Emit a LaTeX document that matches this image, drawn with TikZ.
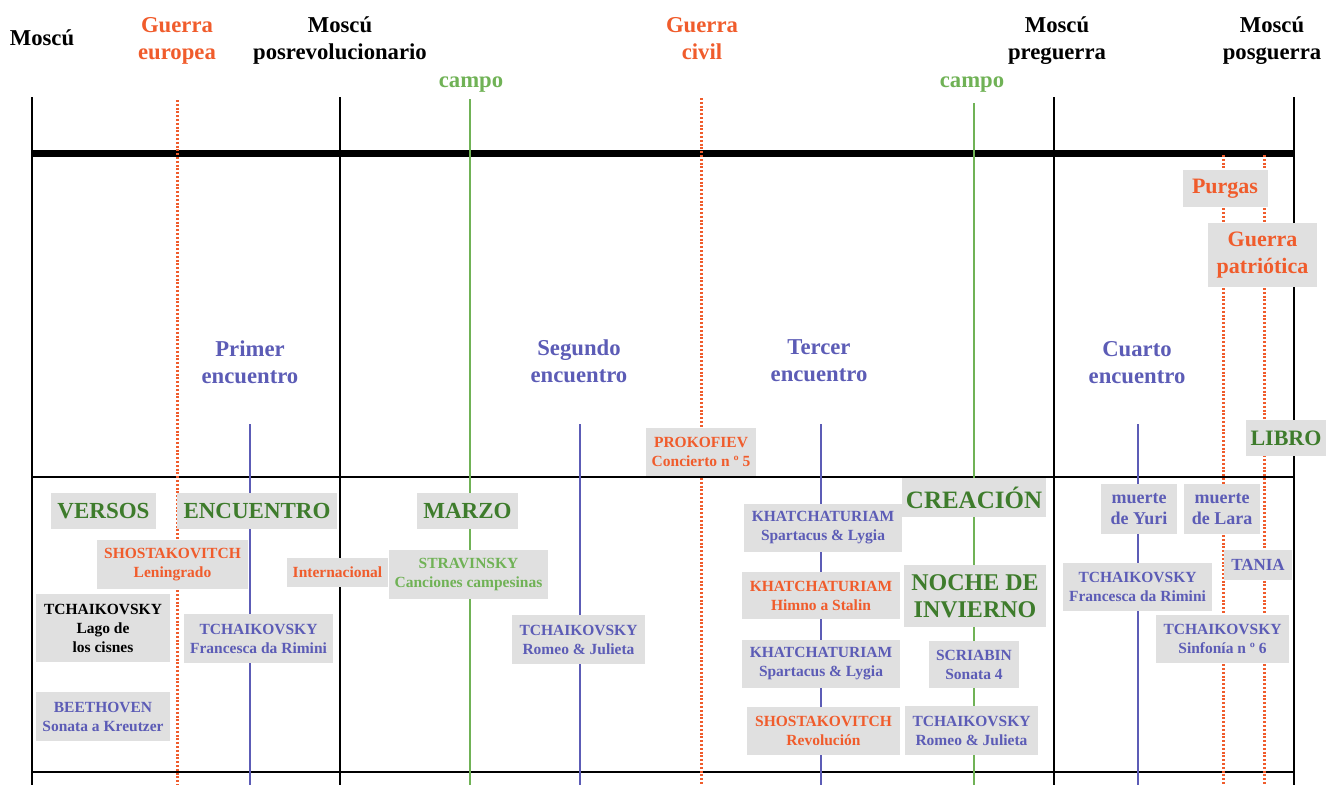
\documentclass[tikz,border=0pt]{standalone}
\usepackage{fontspec}
\setmainfont{Liberation Serif}
\definecolor{orng}{RGB}{240,92,44}
\definecolor{blu}{RGB}{92,92,182}
\definecolor{lgrn}{RGB}{112,178,86}
\definecolor{dgrn}{RGB}{62,124,44}
\definecolor{boxgray}{RGB}{224,224,224}
\tikzset{
  hdr/.style={align=center,inner sep=0pt,font=\fontsize{22.7}{27}\selectfont\bfseries},
  gbox/.style={fill=boxgray,align=center,inner sep=0pt,font=\fontsize{15.5}{19}\selectfont\bfseries},
  bigbox/.style={gbox,font=\fontsize{23}{27}\selectfont\bfseries},
  midbox/.style={gbox,font=\fontsize{22}{27}\selectfont\bfseries},
  warline/.style={orng,line width=3pt,dash pattern=on 2pt off 1.8pt},
  campline/.style={lgrn,line width=2.8pt},
  encline/.style={blu,line width=2.3pt},
  frameline/.style={black,line width=2.8pt}
}
\begin{document}
\begin{tikzpicture}[x=1pt,y=-1pt]
  \useasboundingbox (0,0) rectangle (1328,785);
  % ---------------- frame ----------------
  \foreach \px in {32,340,1054,1294}
    \draw[frameline] (\px,97) -- (\px,785);
  \draw[black,line width=6.5pt] (32,153.5) -- (1294,153.5);
  \draw[frameline] (32,477) -- (1294,477);
  \draw[frameline] (32,772) -- (1294,772);
  % ---------------- wars, camps, encounters ----------------
  \foreach \px/\py in {177/100, 701/98, 1223/155, 1264/155}
    \draw[warline] (\px,\py) -- (\px,785);
  \foreach \px/\py in {470/99, 974/103}
    \draw[campline] (\px,\py) -- (\px,785);
  \foreach \px in {250,580,821,1138}
    \draw[encline] (\px,424) -- (\px,785);
  % ---------------- headings ----------------
  \node[hdr] (moscu) at (42,38) {Moscú};
  \node[hdr,text=orng] (geuropea) at (177,41) {Guerra\\europea};
  \node[hdr] (mposrev) at (340,41) {Moscú\\posrevolucionario};
  \node[hdr,text=lgrn] (campoA) at (471,85) {campo};
  \node[hdr,text=orng] (gcivil) at (702,39) {Guerra\\civil};
  \node[hdr,text=lgrn] (campoB) at (972,85) {campo};
  \node[hdr] (mpreg) at (1057,41) {Moscú\\preguerra};
  \node[hdr] (mposg) at (1272,41) {Moscú\\posguerra};
  \node[hdr,text=blu] (enc1) at (250,362) {Primer\\encuentro};
  \node[hdr,text=blu] (enc2) at (579,361) {Segundo\\encuentro};
  \node[hdr,text=blu] (enc3) at (819,361) {Tercer\\encuentro};
  \node[hdr,text=blu] (enc4) at (1137,363) {Cuarto\\encuentro};
  % ---------------- upper right ----------------
  \node[midbox,text=orng,minimum width=85,minimum height=37] (purgas) at (1225,188.5) {Purgas};
  \node[midbox,text=orng,minimum width=109,minimum height=64] (gpatria) at (1262.5,255) {Guerra\\patriótica};
  \node[midbox,text=dgrn,minimum width=80,minimum height=36] (libro) at (1286,438) {LIBRO};
  \node[gbox,text=orng,minimum width=110,minimum height=48] (prokof) at (701,452) {PROKOFIEV\\Concierto n º 5};
  % ---------------- first period ----------------
  \node[bigbox,text=dgrn,minimum width=105,minimum height=36] (versos) at (103.5,511) {VERSOS};
  \node[bigbox,text=dgrn,minimum width=160,minimum height=36] (encuentro) at (257,511) {ENCUENTRO};
  \node[gbox,text=orng,minimum width=151,minimum height=49] (shostA) at (172.5,564.5) {SHOSTAKOVITCH\\Leningrado};
  \node[gbox,text=orng,minimum width=101,minimum height=29] (internac) at (337.5,572.5) {Internacional};
  \node[gbox,text=black,minimum width=134,minimum height=68] (tchLago) at (103,628) {TCHAIKOVSKY\\Lago de\\los cisnes};
  \node[gbox,text=blu,minimum width=149,minimum height=49] (tchFranA) at (258.5,638.5) {TCHAIKOVSKY\\Francesca da Rimini};
  \node[gbox,text=blu,minimum width=134,minimum height=49] (beeth) at (103,716.5) {BEETHOVEN\\Sonata a Kreutzer};
  % ---------------- second period ----------------
  \node[bigbox,text=dgrn,minimum width=101,minimum height=36] (marzo) at (467.5,511) {MARZO};
  \node[gbox,text=lgrn,minimum width=159,minimum height=49] (strav) at (468.5,574.5) {STRAVINSKY\\Canciones campesinas};
  \node[gbox,text=blu,minimum width=133,minimum height=49] (tchRomA) at (578.5,639.5) {TCHAIKOVSKY\\Romeo \& Julieta};
  % ---------------- third period ----------------
  \node[gbox,text=blu,minimum width=158,minimum height=48] (khatA) at (823,528) {KHATCHATURIAM\\Spartacus \& Lygia};
  \node[gbox,text=orng,minimum width=158,minimum height=47] (khatB) at (821,595.5) {KHATCHATURIAM\\Himno a Stalin};
  \node[gbox,text=blu,minimum width=158,minimum height=48] (khatC) at (821,664) {KHATCHATURIAM\\Spartacus \& Lygia};
  \node[gbox,text=orng,minimum width=153,minimum height=48] (shostB) at (823.5,731) {SHOSTAKOVITCH\\Revolución};
  \node[gbox,text=dgrn,font=\fontsize{25}{28}\selectfont\bfseries,minimum width=144,minimum height=39] (creacion) at (974,497.5) {CREACIÓN};
  \node[gbox,text=dgrn,font=\fontsize{24}{27}\selectfont\bfseries,minimum width=142,minimum height=62] (noche) at (975,596) {NOCHE DE\\INVIERNO};
  \node[gbox,text=blu,minimum width=90,minimum height=47] (scriab) at (974,664.5) {SCRIABIN\\Sonata 4};
  \node[gbox,text=blu,minimum width=133,minimum height=49] (tchRomB) at (971.5,730.5) {TCHAIKOVSKY\\Romeo \& Julieta};
  % ---------------- fourth period ----------------
  \node[gbox,text=blu,font=\fontsize{18}{20.5}\selectfont\bfseries,minimum width=76,minimum height=50] (yuri) at (1139,509) {muerte\\de Yuri};
  \node[gbox,text=blu,font=\fontsize{18}{20.5}\selectfont\bfseries,minimum width=76,minimum height=50] (lara) at (1222,509) {muerte\\de Lara};
  \node[gbox,text=blu,font=\fontsize{17}{20}\selectfont\bfseries,minimum width=68,minimum height=30] (tania) at (1258,565) {TANIA};
  \node[gbox,text=blu,minimum width=149,minimum height=48] (tchFranB) at (1137.5,587) {TCHAIKOVSKY\\Francesca da Rimini};
  \node[gbox,text=blu,minimum width=133,minimum height=48] (tchSinf) at (1222.5,639) {TCHAIKOVSKY\\Sinfonía n º 6};
\end{tikzpicture}
\end{document}
